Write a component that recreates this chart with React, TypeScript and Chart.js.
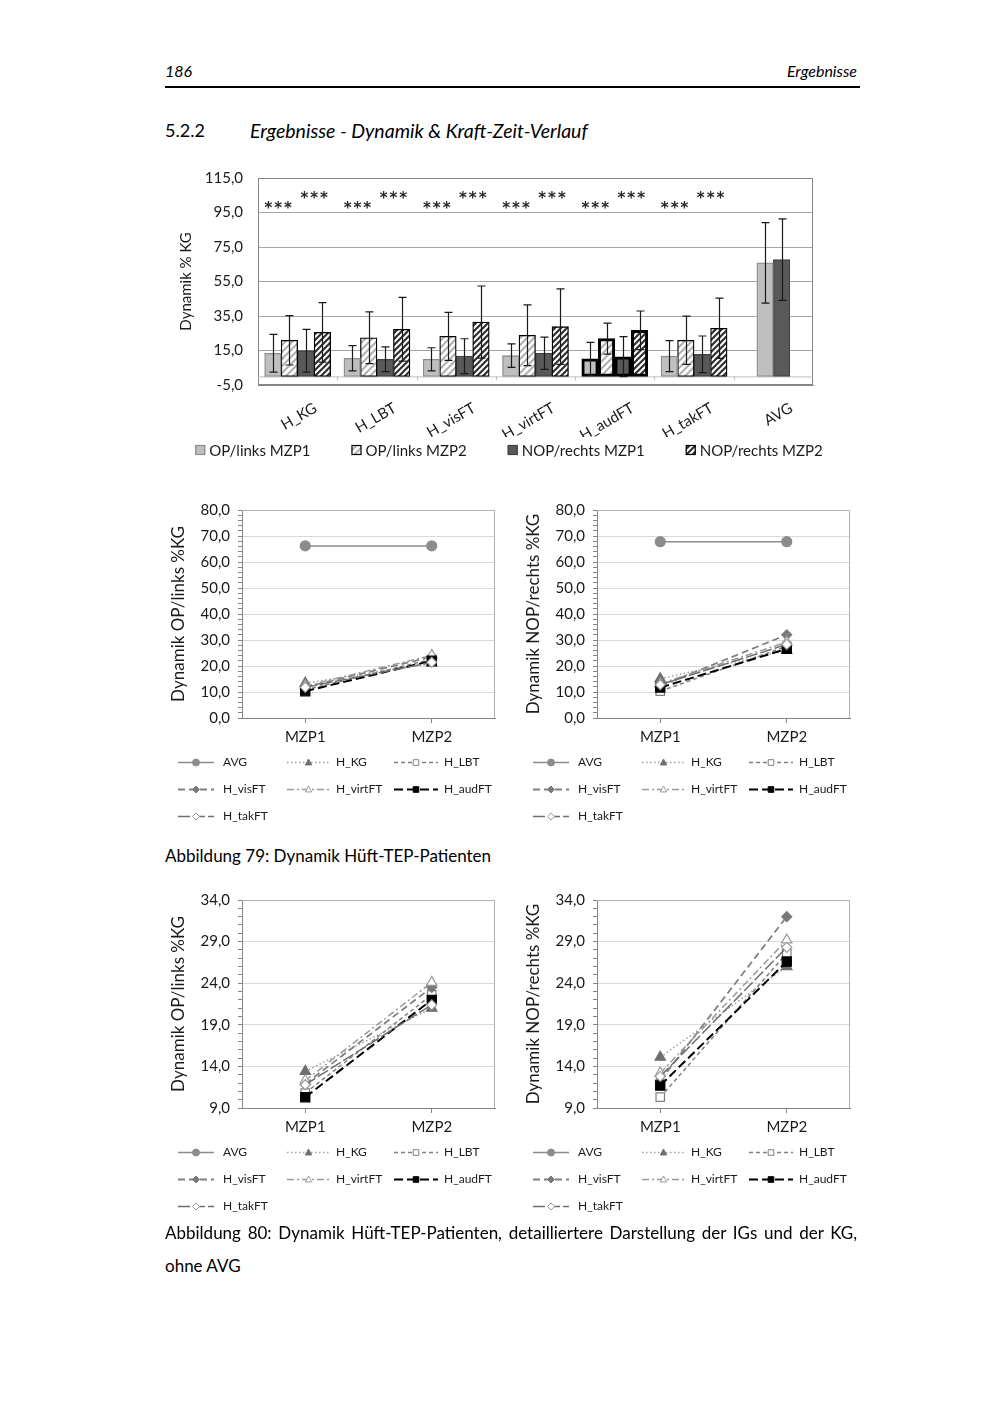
import React, { useEffect, useRef } from 'react';
import { Chart, registerables } from 'chart.js';

Chart.register(...registerables);
Chart.defaults.font.family = 'Lato';

// ---------- Bar chart data ----------
const barCategories = ['H_KG', 'H_LBT', 'H_visFT', 'H_virtFT', 'H_audFT', 'H_takFT', 'AVG'];
const barSeriesNames = ['OP/links MZP1', 'OP/links MZP2', 'NOP/rechts MZP1', 'NOP/rechts MZP2'];
const opMzp1 = [13.4, 10.5, 9.9, 12.0, 10.1, 11.7, 65.8];
const opMzp2 = [20.9, 22.4, 23.2, 23.8, 21.9, 20.9, null];
const nopMzp1 = [14.9, 9.9, 11.7, 13.4, 11.4, 12.8, 67.7];
const nopMzp2 = [25.5, 27.3, 31.5, 28.8, 26.7, 27.9, null];
const opMzp1Sd = [10.9, 7.3, 6.7, 6.8, 9.6, 9.0, 23.3];
const opMzp2Sd = [14.3, 15.0, 13.9, 17.6, 9.0, 14.0, null];
const nopMzp1Sd = [12.4, 7.2, 10.1, 9.3, 11.6, 10.6, 23.6];
const nopMzp2Sd = [17.2, 18.5, 20.9, 21.9, 11.2, 17.5, null];
const sigOp = ['***', '***', '***', '***', '***', '***', ''];
const sigNop = ['***', '***', '***', '***', '***', '***', ''];
const barYMin = -5;
const barYMax = 115;
const barYStep = 20;

// ---------- Line chart data ----------
const lineCategories = ['MZP1', 'MZP2'];
const lineSeriesNames = ['AVG', 'H_KG', 'H_LBT', 'H_visFT', 'H_virtFT', 'H_audFT', 'H_takFT'];
const opAvg = [66.2, 66.2];
const opKg = [13.4, 21.0];
const opLbt = [10.8, 22.6];
const opVisFt = [11.9, 23.5];
const opVirtFt = [12.3, 24.1];
const opAudFt = [10.3, 22.0];
const opTakFt = [11.8, 21.4];
const nopAvg = [67.8, 67.8];
const nopKg = [15.1, 26.0];
const nopLbt = [10.3, 27.6];
const nopVisFt = [12.3, 32.0];
const nopVirtFt = [13.2, 29.2];
const nopAudFt = [11.7, 26.6];
const nopTakFt = [12.8, 28.3];

const TEXT = '#1a1a1a';
const fmt = (v: number) => Number(v).toFixed(1).replace('.', ',');

// ---------- helpers ----------
function makeHatch(fg: string, size: number, lw: number) {
  const c = document.createElement('canvas');
  c.width = size;
  c.height = size;
  const x = c.getContext('2d')!;
  x.fillStyle = '#ffffff';
  x.fillRect(0, 0, size, size);
  x.strokeStyle = fg;
  x.lineWidth = lw;
  x.beginPath();
  x.moveTo(0, size);
  x.lineTo(size, 0);
  x.moveTo(-2, 2);
  x.lineTo(2, -2);
  x.moveTo(size - 2, size + 2);
  x.lineTo(size + 2, size - 2);
  x.stroke();
  const ctx = document.createElement('canvas').getContext('2d')!;
  return ctx.createPattern(c, 'repeat')!;
}

function drawMarker(ctx: CanvasRenderingContext2D, style: string, x: number, y: number, r: number, fill: string, stroke: string, lw: number) {
  ctx.save();
  ctx.beginPath();
  if (style === 'circle') {
    ctx.arc(x, y, r, 0, Math.PI * 2);
  } else if (style === 'triangle') {
    ctx.moveTo(x, y - r);
    ctx.lineTo(x + r * 0.9, y + r * 0.7);
    ctx.lineTo(x - r * 0.9, y + r * 0.7);
    ctx.closePath();
  } else if (style === 'rect') {
    ctx.rect(x - r * 0.8, y - r * 0.8, r * 1.6, r * 1.6);
  } else {
    ctx.moveTo(x, y - r);
    ctx.lineTo(x + r, y);
    ctx.lineTo(x, y + r);
    ctx.lineTo(x - r, y);
    ctx.closePath();
  }
  ctx.fillStyle = fill;
  ctx.fill();
  ctx.lineWidth = lw;
  ctx.strokeStyle = stroke;
  ctx.stroke();
  ctx.restore();
}

// ---------- Bar chart plugins ----------
const barDecorPlugin = {
  id: 'barDecor',
  beforeDatasetsDraw(chart: any) {
    const { ctx, chartArea: ca, scales } = chart;
    const y0 = scales.y.getPixelForValue(0);
    ctx.save();
    ctx.strokeStyle = '#868686';
    ctx.lineWidth = 1;
    ctx.strokeRect(ca.left + 0.5, ca.top + 0.5, ca.right - ca.left - 1, ca.bottom - ca.top - 1);
    ctx.strokeStyle = '#bfbfbf';
    ctx.beginPath();
    ctx.moveTo(ca.left, y0 + 0.5);
    ctx.lineTo(ca.right, y0 + 0.5);
    const n = chart.data.labels.length;
    for (let i = 0; i < n - 1; i++) {
      const bx = Math.round((scales.x.getPixelForValue(i) + scales.x.getPixelForValue(i + 1)) / 2) + 0.5;
      ctx.moveTo(bx, y0);
      ctx.lineTo(bx, y0 + 4);
    }
    ctx.stroke();
    ctx.restore();
  },
  afterDatasetsDraw(chart: any) {
    const { ctx, chartArea: ca, scales } = chart;
    ctx.save();
    // error bars
    chart.data.datasets.forEach((ds: any, i: number) => {
      const meta = chart.getDatasetMeta(i);
      meta.data.forEach((bar: any, j: number) => {
        const v = ds.data[j];
        const sd = ds.errors[j];
        if (v == null || sd == null) return;
        const yt = scales.y.getPixelForValue(v + sd);
        const yb = scales.y.getPixelForValue(v - sd);
        const x = Math.round(bar.x) + 0.5;
        ctx.strokeStyle = '#1a1a1a';
        ctx.lineWidth = 1.2;
        ctx.beginPath();
        ctx.moveTo(x, yt);
        ctx.lineTo(x, yb);
        ctx.moveTo(x - 4, yt);
        ctx.lineTo(x + 4, yt);
        ctx.moveTo(x - 4, yb);
        ctx.lineTo(x + 4, yb);
        ctx.stroke();
      });
    });
    // significance stars
    const m0 = chart.getDatasetMeta(0), m1 = chart.getDatasetMeta(1), m2 = chart.getDatasetMeta(2), m3 = chart.getDatasetMeta(3);
    ctx.fillStyle = '#262626';
    ctx.font = 'bold 15px "DejaVu Sans"';
    (ctx as any).letterSpacing = '2px';
    ctx.textAlign = 'center';
    ctx.textBaseline = 'middle';
    sigOp.forEach((s, i) => {
      if (!s) return;
      const x = (m0.data[i].x + m1.data[i].x) / 2 - 2;
      ctx.fillText(s, x, ca.top + 31);
    });
    sigNop.forEach((s, i) => {
      if (!s) return;
      const x = (m2.data[i].x + m3.data[i].x) / 2 + 1;
      ctx.fillText(s, x, ca.top + 21);
    });
    ctx.restore();
  },
  afterDraw(chart: any) {
    const { ctx, chartArea: ca } = chart;
    ctx.save();
    ctx.font = '15px Lato';
    const ds = chart.data.datasets;
    const widths = ds.map((d: any) => 10 + 5 + ctx.measureText(d.label).width);
    const gap = 40;
    const total = widths.reduce((a: number, b: number) => a + b, 0) + gap * (ds.length - 1);
    let x = (chart.width - total) / 2 - 3;
    const y = ca.bottom + 65;
    ds.forEach((d: any, i: number) => {
      ctx.fillStyle = d.backgroundColor;
      ctx.fillRect(x, y - 5, 10, 10);
      ctx.lineWidth = 1.2;
      ctx.strokeStyle = d.legendBorder;
      ctx.strokeRect(x + 0.5, y - 4.5, 9, 9);
      ctx.fillStyle = TEXT;
      ctx.textBaseline = 'middle';
      ctx.textAlign = 'left';
      ctx.fillText(d.label, x + 14, y + 1);
      x += widths[i] + gap;
    });
    ctx.restore();
  },
};

function BarChart() {
  const ref = useRef<HTMLCanvasElement>(null);
  useEffect(() => {
    const hatchLight = makeHatch('#b0b0b0', 7, 2);
    const hatchDark = makeHatch('#303030', 6, 2.2);
    const emph = 4;
    const chart = new Chart(ref.current!, {
      type: 'bar',
      data: {
        labels: barCategories,
        datasets: [
          { label: barSeriesNames[0], data: opMzp1, errors: opMzp1Sd, backgroundColor: '#bfbfbf', borderColor: (c: any) => (c.dataIndex === emph ? '#000' : '#8c8c8c'), legendBorder: '#8c8c8c' } as any,
          { label: barSeriesNames[1], data: opMzp2, errors: opMzp2Sd, backgroundColor: hatchLight, borderColor: '#000', legendBorder: '#000' } as any,
          { label: barSeriesNames[2], data: nopMzp1, errors: nopMzp1Sd, backgroundColor: '#595959', borderColor: (c: any) => (c.dataIndex === emph ? '#000' : '#404040'), legendBorder: '#404040' } as any,
          { label: barSeriesNames[3], data: nopMzp2, errors: nopMzp2Sd, backgroundColor: hatchDark, borderColor: '#000', legendBorder: '#000' } as any,
        ],
      },
      options: {
        animation: false,
        responsive: false,
        datasets: {
          bar: {
            barThickness: 16.5,
            skipNull: true,
            borderSkipped: false,
            borderWidth: (c: any) => (c.dataIndex === emph ? 3 : 1.3),
          } as any,
        },
        plugins: { legend: { display: false }, tooltip: { enabled: false } },
        layout: { padding: { top: 1, right: 47, bottom: 28, left: 0 } },
        scales: {
          x: {
            grid: { display: false },
            border: { display: true, color: '#868686' },
            ticks: { font: { size: 15 }, color: TEXT, minRotation: 30, maxRotation: 30, labelOffset: 18, padding: 6 },
            afterFit: (s: any) => { s.height = 52; },
          },
          y: {
            min: barYMin,
            max: barYMax,
            ticks: { stepSize: barYStep, callback: (v: any) => fmt(v), font: { size: 15 }, color: TEXT, padding: 15 },
            grid: { color: '#a6a6a6', drawTicks: false },
            border: { display: true, color: '#868686' },
            title: { display: true, text: 'Dynamik % KG', font: { size: 15 }, color: TEXT, padding: { top: 12, bottom: 0 } },
            afterFit: (s: any) => { s.width = 93; },
          },
        },
      } as any,
      plugins: [barDecorPlugin],
    });
    return () => chart.destroy();
  }, []);
  return <canvas ref={ref} width={695} height={311} style={{ position: 'absolute', left: 165, top: 154 }} />;
}

// ---------- Line chart ----------
const lineStyles = [
  { color: '#8c8c8c', width: 1.5, dash: [], point: 'circle', bg: '#8c8c8c', pb: '#8c8c8c', r: 5 },
  { color: '#a0a0a0', width: 1.5, dash: [1.5, 2.5], point: 'triangle', bg: '#6e6e6e', pb: '#6e6e6e', r: 6 },
  { color: '#808080', width: 1.5, dash: [4, 3], point: 'rect', bg: '#ffffff', pb: '#808080', r: 6 },
  { color: '#808080', width: 1.8, dash: [7, 4], point: 'rectRot', bg: '#7a7a7a', pb: '#7a7a7a', r: 5 },
  { color: '#9a9a9a', width: 1.5, dash: [7, 3, 2, 3], point: 'triangle', bg: '#ffffff', pb: '#9a9a9a', r: 6 },
  { color: '#000000', width: 2, dash: [9, 4], point: 'rect', bg: '#000000', pb: '#000000', r: 6.5 },
  { color: '#6e6e6e', width: 1.5, dash: [12, 3], point: 'rectRot', bg: '#ffffff', pb: '#9a9a9a', r: 5 },
];

const lineDecorPlugin = {
  id: 'lineDecor',
  beforeDatasetsDraw(chart: any) {
    const { ctx, chartArea: ca } = chart;
    ctx.save();
    ctx.strokeStyle = '#b3b3b3';
    ctx.lineWidth = 1;
    ctx.beginPath();
    ctx.moveTo(ca.left, ca.top + 0.5);
    ctx.lineTo(ca.right - 0.5, ca.top + 0.5);
    ctx.lineTo(ca.right - 0.5, ca.bottom);
    ctx.stroke();
    ctx.restore();
  },
  afterDraw(chart: any) {
    const { ctx, chartArea: ca } = chart;
    const cols = [
      { sx: 13, len: 36, tx: 58 },
      { sx: 122, len: 43, tx: 171 },
      { sx: 229, len: 44, tx: 279 },
    ];
    chart.data.datasets.forEach((d: any, i: number) => {
      const col = cols[i % 3];
      const row = Math.floor(i / 3);
      const y = Math.round(ca.bottom + 44 + row * 27) + 0.5;
      ctx.save();
      ctx.strokeStyle = d.borderColor;
      ctx.lineWidth = d.borderWidth;
      ctx.setLineDash(d.borderDash || []);
      ctx.beginPath();
      ctx.moveTo(col.sx, y);
      ctx.lineTo(col.sx + col.len, y);
      ctx.stroke();
      ctx.setLineDash([]);
      drawMarker(ctx, d.pointStyle, col.sx + col.len / 2, y, 3.5, d.pointBackgroundColor, d.pointBorderColor, 1);
      ctx.fillStyle = TEXT;
      ctx.font = '12px Lato';
      ctx.textBaseline = 'middle';
      ctx.textAlign = 'left';
      ctx.fillText(d.label, col.tx, y);
      ctx.restore();
    });
  },
};

type LineProps = { series: number[][]; title: string; yMin: number; yMax: number; step: number; major: number; left: number; top: number };

function LineChart({ series, title, yMin, yMax, step, major, left, top }: LineProps) {
  const ref = useRef<HTMLCanvasElement>(null);
  useEffect(() => {
    const isMajor = (v: number) => Math.abs(((v - yMin) / major) - Math.round((v - yMin) / major)) < 1e-6;
    const chart = new Chart(ref.current!, {
      type: 'line',
      data: {
        labels: lineCategories,
        datasets: series.map((d, i) => {
          const s = lineStyles[i];
          return {
            label: lineSeriesNames[i],
            data: d,
            borderColor: s.color,
            borderWidth: s.width,
            borderDash: s.dash,
            pointStyle: s.point,
            pointRadius: s.r,
            pointBackgroundColor: s.bg,
            pointBorderColor: s.pb,
            pointBorderWidth: 1.2,
            order: series.length - i,
            tension: 0,
          } as any;
        }),
      },
      options: {
        animation: false,
        responsive: false,
        plugins: { legend: { display: false }, tooltip: { enabled: false } },
        layout: { padding: { top: 13, right: 8, bottom: 82, left: 0 } },
        scales: {
          x: {
            offset: true,
            grid: { drawOnChartArea: false, tickLength: 5, color: '#868686', offset: false },
            border: { display: true, color: '#868686' },
            ticks: { font: { size: 15 }, color: TEXT, padding: 5 },
            afterFit: (s: any) => { s.height = 35; },
          },
          y: {
            min: yMin,
            max: yMax,
            ticks: {
              stepSize: step,
              autoSkip: false,
              callback: (v: any) => (isMajor(Number(v)) ? fmt(Number(v)) : ''),
              font: { size: 15 },
              color: TEXT,
              padding: 8,
            },
            grid: {
              color: (c: any) => (c.tick && isMajor(c.tick.value) ? '#d9d9d9' : 'rgba(0,0,0,0)'),
              tickColor: '#868686',
              tickLength: 4,
            },
            border: { display: true, color: '#868686' },
            title: { display: true, text: title, font: { size: 17 }, color: TEXT, padding: { top: 3, bottom: 0 } },
            afterFit: (s: any) => { s.width = 77; },
          },
        },
      } as any,
      plugins: [lineDecorPlugin],
    });
    return () => chart.destroy();
  }, []);
  return <canvas ref={ref} width={338} height={342} style={{ position: 'absolute', left, top }} />;
}

const opSeries = [opAvg, opKg, opLbt, opVisFt, opVirtFt, opAudFt, opTakFt];
const nopSeries = [nopAvg, nopKg, nopLbt, nopVisFt, nopVirtFt, nopAudFt, nopTakFt];

export default function App() {
  const base: React.CSSProperties = { position: 'absolute', fontFamily: 'Lato', color: '#000', whiteSpace: 'nowrap', lineHeight: 1 };
  return (
    <div style={{ position: 'absolute', left: 0, top: 0, width: 1000, height: 1414, background: '#fff', fontFamily: 'Lato' }}>
      <div style={{ ...base, left: 165, top: 63, fontSize: 16, fontStyle: 'italic' }}>186</div>
      <div style={{ ...base, right: 143, top: 63, fontSize: 16, fontStyle: 'italic' }}>Ergebnisse</div>
      <div style={{ position: 'absolute', left: 165, top: 86, width: 695, height: 1.5, background: '#000' }} />
      <div style={{ ...base, left: 165, top: 121, fontSize: 18 }}>5.2.2</div>
      <div style={{ ...base, left: 250, top: 121, fontSize: 19.5, fontStyle: 'italic' }}>Ergebnisse - Dynamik &amp; Kraft-Zeit-Verlauf</div>

      <BarChart />

      <LineChart series={opSeries} title="Dynamik OP/links %KG" yMin={0} yMax={80} step={2} major={10} left={165} top={493} />
      <LineChart series={nopSeries} title="Dynamik NOP/rechts %KG" yMin={0} yMax={80} step={2} major={10} left={520} top={493} />

      <div style={{ ...base, left: 165, top: 847, fontSize: 17 }}>Abbildung 79: Dynamik Hüft-TEP-Patienten</div>

      <LineChart series={opSeries} title="Dynamik OP/links %KG" yMin={9} yMax={34} step={1} major={5} left={165} top={883} />
      <LineChart series={nopSeries} title="Dynamik NOP/rechts %KG" yMin={9} yMax={34} step={1} major={5} left={520} top={883} />

      <div style={{ ...base, left: 165, top: 1224, width: 692, fontSize: 17, textAlign: 'justify', textAlignLast: 'justify' as any }}>
        Abbildung 80: Dynamik Hüft-TEP-Patienten, detailliertere Darstellung der IGs und der KG,
      </div>
      <div style={{ ...base, left: 165, top: 1257, fontSize: 17 }}>ohne AVG</div>
    </div>
  );
}
